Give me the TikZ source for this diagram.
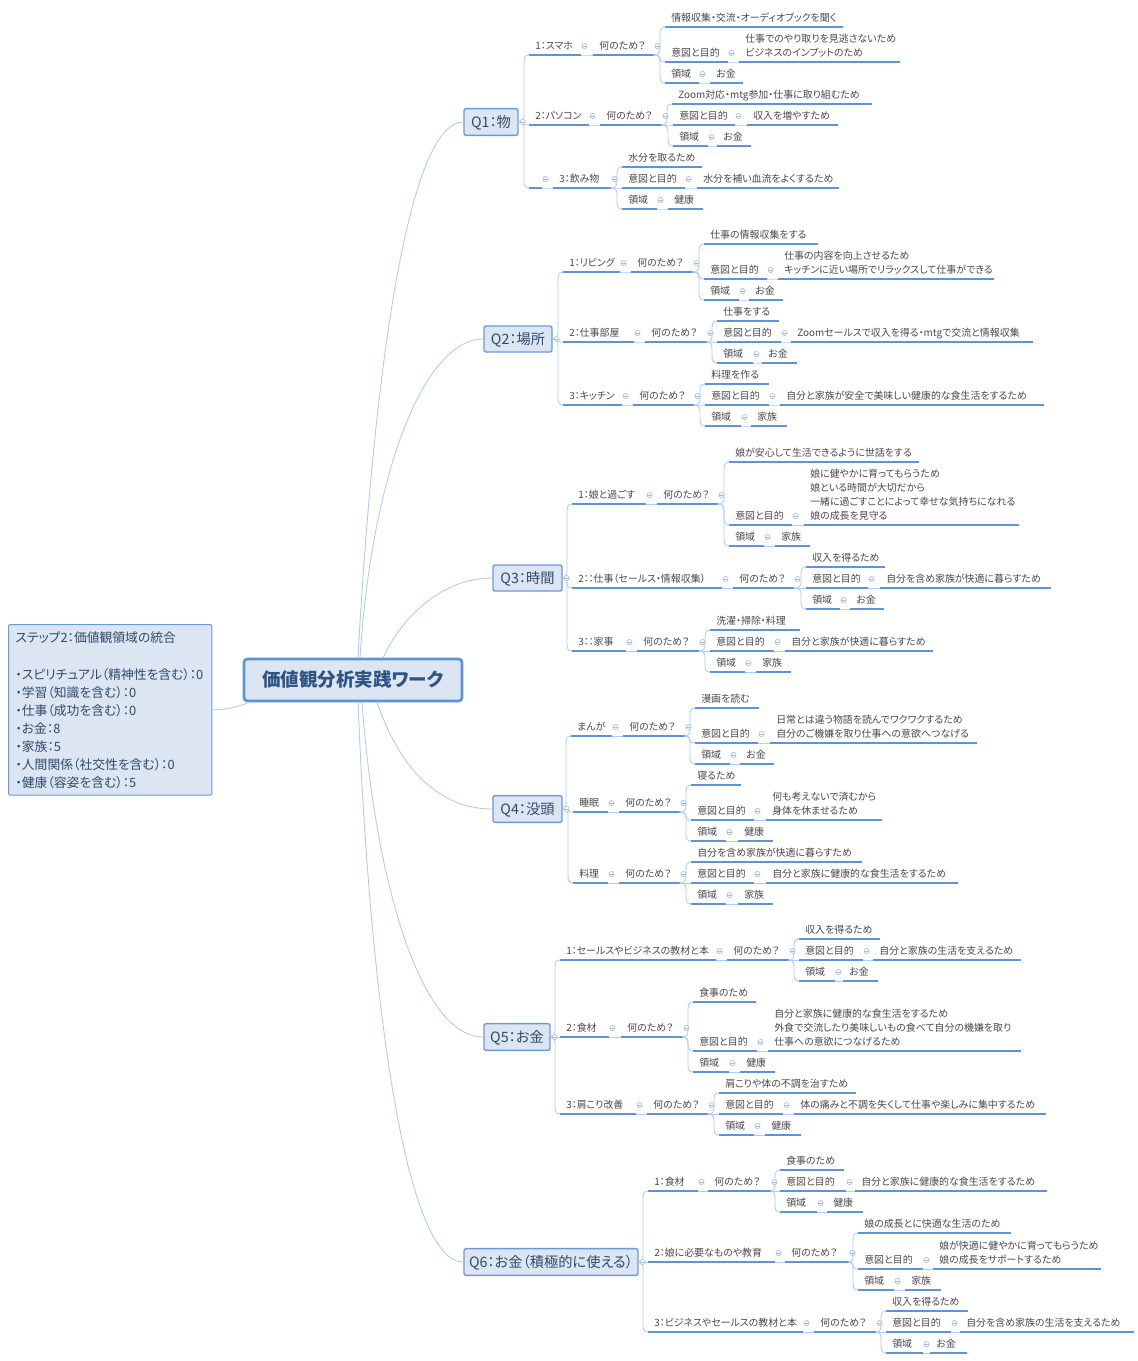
\documentclass[tikz,border=0pt]{standalone}
\usepackage{fontspec}
\usetikzlibrary{calc}
\setmainfont{Noto Sans CJK JP}[RawFeature={+palt}]
\definecolor{linec}{HTML}{B0CCF0}
\definecolor{ulc}{HTML}{5E93D6}
\definecolor{boxf}{HTML}{DCE6F2}
\definecolor{boxd}{HTML}{6A9BD8}
\definecolor{txt}{HTML}{4A4A4A}
\definecolor{dtxt}{HTML}{2E4A6B}
\definecolor{roott}{HTML}{2F5585}
\definecolor{foldc}{HTML}{A3C0E4}
\tikzset{
  x=0.75pt,y=-0.75pt,
  conn/.style={draw=linec,line width=0.65pt},
  hub/.style={draw=linec,line width=0.65pt},
  topic/.style={anchor=south west,inner xsep=4.5pt,inner ysep=0pt,align=left,text=txt,
    font=\fontsize{7.45}{10.5}\selectfont,
    append after command={(\tikzlastnode.south west) edge[draw=ulc,line width=1.1pt] (\tikzlastnode.south east)}},
  fold/.style={circle,draw=foldc,fill=white,line width=0.45pt,inner sep=0pt,minimum size=3.9pt,
    path picture={\draw[foldc,line width=0.4pt] (path picture bounding box.west) -- (path picture bounding box.east);}},
  qbox/.style={draw=boxd,fill=boxf,line width=1.05pt,rounded corners=1.6pt,text=dtxt,inner sep=0pt,
    font=\fontsize{10.7}{13}\selectfont},
  rootbox/.style={draw=ulc,fill=boxf,line width=2pt,rounded corners=2.5pt,text=roott,inner sep=0pt,
    font=\fontsize{13.9}{18}\selectfont\bfseries},
  notebox/.style={draw=boxd,fill=boxf,line width=0.8pt,rounded corners=1.5pt,text=dtxt,inner xsep=5.25pt,inner ysep=0pt,
    align=left,anchor=north west,font=\fontsize{9.6}{13.5}\selectfont},
}
\newcommand\Conn[2]{\draw[conn] let \p1=(#1),\p2=(#2),
  \n1={sign(\y2-\y1)*min(abs(\y2-\y1)/2,5.25pt)},\n2={\x2-3.75pt} in
  (\p1) .. controls (\n2-1pt,\y1) and (\n2,\y1+0.3*\n1) .. (\n2,\y1+\n1) -- (\n2,\y2-\n1)
  .. controls (\n2,\y2-0.3*\n1) and (\n2+1pt,\y2) .. (\p2);}
% leaf topic: name, parent, x1, x2, y, text
\newcommand\Tl[6]{%
  \pgfmathsetlengthmacro\tw{(#4-#3-12)*0.75pt}%
  \node[topic,text width=\tw] (#1) at (#3,#5) {#6\rule[-3.7pt]{0pt}{3.7pt}};
  \Conn{#2}{#1.south west}}
% topic followed by a collapse marker
\newcommand\Tf[6]{\Tl{#1}{#2}{#3}{#4}{#5}{#6}
  \node[fold] (#1f) at ($(#1.south east)+(4,-9)$) {};}
\newcommand\Why{何のため？}
\newcommand\Aim{意図と目的}
\newcommand\Dom{領域}
\newcommand\Low[1]{\raisebox{-5.2pt}[0pt][0pt]{#1}}
\newcommand\QLow[1]{\raisebox{-4.1pt}[0pt][0pt]{#1}}
\begin{document}
\begin{tikzpicture}
\useasboundingbox (0,0) rectangle (1138,1361);
\fill[white] (0,0) rectangle (1138,1361);
\node[rootbox,minimum width=163.5pt,minimum height=31.5pt] (root) at (353,680) {\Low{価値観分析実践ワーク}};
\node[notebox,minimum height=128pt,text width=142pt] (note) at (8,624) {\vspace*{0.8pt}ステップ2：価値観領域の統合\\\mbox{}\\・スピリチュアル（精神性を含む）：0\\・学習（知識を含む）：0\\・仕事（成功を含む）：0\\・お金：8\\・家族：5\\・人間関係（社交性を含む）：0\\・健康（容姿を含む）：5};
\node[qbox,minimum width=40.5pt,minimum height=20pt] (Q1) at (491,122) {\QLow{Q1：物}};
\node[qbox,minimum width=51pt,minimum height=19.5pt] (Q2) at (518,339) {\QLow{Q2：場所}};
\node[qbox,minimum width=51.75pt,minimum height=19.5pt] (Q3) at (527.5,578) {\QLow{Q3：時間}};
\node[qbox,minimum width=51.75pt,minimum height=20pt] (Q4) at (527.5,809) {\QLow{Q4：没頭}};
\node[qbox,minimum width=49.5pt,minimum height=20pt] (Q5) at (517,1037) {\QLow{Q5：お金}};
\node[qbox,minimum width=130.5pt,minimum height=20pt] (Q6) at (551,1262) {\QLow{Q6：お金（積極的に使える）}};
\draw[hub] (note.east) ++(0,0) .. controls +(13,0) and (238,707) .. (250,702);
\draw[hub] (358,658) .. controls (372,400) and (405,122) .. (Q1.west);
\draw[hub] (360,658) .. controls (372,470) and (425,339) .. (Q2.west);
\draw[hub] (383,658) .. controls (400,620) and (440,578) .. (Q3.west);
\draw[hub] (377,702) .. controls (400,770) and (440,809) .. (Q4.west);
\draw[hub] (362,702) .. controls (375,880) and (420,1037) .. (Q5.west);
\draw[hub] (358,702) .. controls (370,1000) and (405,1262) .. (Q6.west);
% Q1
\Tf{a1}{Q1.east}{529}{580}{55}{1：スマホ}
\Tf{a1w}{a1.south east}{593}{653}{55}{\Why}
\Tl{a1a}{a1w.south east}{665}{842}{27}{情報収集・交流・オーディオブックを聞く}
\Tf{a1b}{a1w.south east}{665}{727}{62}{\Aim}
\Tl{a1bt}{a1b.south east}{739}{899}{62}{仕事でのやり取りを見逃さないため\\ビジネスのインプットのため}
\Tf{a1c}{a1w.south east}{665}{698}{83}{\Dom}
\Tl{a1ct}{a1c.south east}{710}{742}{83}{お金}
\Tf{a2}{Q1.east}{529}{588}{125}{2：パソコン}
\Tf{a2w}{a2.south east}{600}{661}{125}{\Why}
\Tl{a2a}{a2w.south east}{672}{871}{104}{Zoom対応・mtg参加・仕事に取り組むため}
\Tf{a2b}{a2w.south east}{673}{734}{125}{\Aim}
\Tl{a2bt}{a2b.south east}{747}{837}{125}{収入を増やすため}
\Tf{a2c}{a2w.south east}{673}{707}{146}{\Dom}
\Tl{a2ct}{a2c.south east}{717}{750}{146}{お金}
\Tf{a3e}{Q1.east}{529}{541}{188}{}
\Tf{a3}{a3e.south east}{553}{610}{188}{3：飲み物}
\Tl{a3a}{a3.south east}{622}{701}{167}{水分を取るため}
\Tf{a3b}{a3.south east}{622}{684}{188}{\Aim}
\Tl{a3bt}{a3b.south east}{697}{838}{188}{水分を補い血流をよくするため}
\Tf{a3c}{a3.south east}{622}{656}{209}{\Dom}
\Tl{a3ct}{a3c.south east}{668}{702}{209}{健康}
% Q2
\Tf{b1}{Q2.east}{563}{619}{272}{1：リビング}
\Tf{b1w}{b1.south east}{631}{692}{272}{\Why}
\Tl{b1a}{b1w.south east}{704}{817}{244}{仕事の情報収集をする}
\Tf{b1b}{b1w.south east}{704}{766}{279}{\Aim}
\Tl{b1bt}{b1b.south east}{778}{993}{279}{仕事の内容を向上させるため\\キッチンに近い場所でリラックスして仕事ができる}
\Tf{b1c}{b1w.south east}{704}{738}{300}{\Dom}
\Tl{b1ct}{b1c.south east}{749}{782}{300}{お金}
\Tf{b2}{Q2.east}{563}{633}{342}{2：仕事部屋}
\Tf{b2w}{b2.south east}{645}{706}{342}{\Why}
\Tl{b2a}{b2w.south east}{717}{778}{321}{仕事をする}
\Tf{b2b}{b2w.south east}{717}{780}{342}{\Aim}
\Tl{b2bt}{b2b.south east}{791}{1032}{342}{Zoomセールスで収入を得る・mtgで交流と情報収集}
\Tf{b2c}{b2w.south east}{717}{752}{363}{\Dom}
\Tl{b2ct}{b2c.south east}{762}{796}{363}{お金}
\Tf{b3}{Q2.east}{563}{621}{405}{3：キッチン}
\Tf{b3w}{b3.south east}{633}{693}{405}{\Why}
\Tl{b3a}{b3w.south east}{705}{768}{384}{料理を作る}
\Tf{b3b}{b3w.south east}{705}{768}{405}{\Aim}
\Tl{b3bt}{b3b.south east}{780}{1043}{405}{自分と家族が安全で美味しい健康的な食生活をするため}
\Tf{b3c}{b3w.south east}{705}{740}{426}{\Dom}
\Tl{b3ct}{b3c.south east}{751}{786}{426}{家族}
% Q3
\Tf{c1}{Q3.east}{572}{645}{504}{1：娘と過ごす}
\Tf{c1w}{c1.south east}{657}{717}{504}{\Why}
\Tl{c1a}{c1w.south east}{729}{918}{462}{娘が安心して生活できるように世話をする}
\Tf{c1b}{c1w.south east}{729}{791}{525}{\Aim}
\Tl{c1bt}{c1b.south east}{804}{1018}{525}{娘に健やかに育ってもらうため\\娘といる時間が大切だから\\一緒に過ごすことによって幸せな気持ちになれる\\娘の成長を見守る}
\Tf{c1c}{c1w.south east}{729}{763}{546}{\Dom}
\Tl{c1ct}{c1c.south east}{775}{809}{546}{家族}
\Tf{c2}{Q3.east}{572}{721}{588}{2：：仕事（セールス・情報収集）}
\Tf{c2w}{c2.south east}{733}{793}{588}{\Why}
\Tl{c2a}{c2w.south east}{806}{884}{567}{収入を得るため}
\Tf{c2b}{c2w.south east}{806}{867}{588}{\Aim}
\Tl{c2bt}{c2b.south east}{880}{1050}{588}{自分を含め家族が快適に暮らすため}
\Tf{c2c}{c2w.south east}{806}{839}{609}{\Dom}
\Tl{c2ct}{c2c.south east}{850}{883}{609}{お金}
\Tf{c3}{Q3.east}{572}{625}{651}{3：：家事}
\Tf{c3w}{c3.south east}{637}{698}{651}{\Why}
\Tl{c3a}{c3w.south east}{710}{799}{630}{洗濯・掃除・料理}
\Tf{c3b}{c3w.south east}{710}{773}{651}{\Aim}
\Tl{c3bt}{c3b.south east}{785}{932}{651}{自分と家族が快適に暮らすため}
\Tf{c3c}{c3w.south east}{710}{744}{672}{\Dom}
\Tl{c3ct}{c3c.south east}{756}{790}{672}{家族}
% Q4
\Tf{d1}{Q4.east}{571}{611}{736}{まんが}
\Tf{d1w}{d1.south east}{623}{684}{736}{\Why}
\Tl{d1a}{d1w.south east}{695}{758}{708}{漫画を読む}
\Tf{d1b}{d1w.south east}{695}{757}{743}{\Aim}
\Tl{d1bt}{d1b.south east}{770}{976}{743}{日常とは違う物語を読んでワクワクするため\\自分のご機嫌を取り仕事への意欲へつなげる}
\Tf{d1c}{d1w.south east}{695}{729}{764}{\Dom}
\Tl{d1ct}{d1c.south east}{740}{773}{764}{お金}
\Tf{d2}{Q4.east}{573}{607}{812}{睡眠}
\Tf{d2w}{d2.south east}{619}{679}{812}{\Why}
\Tl{d2a}{d2w.south east}{691}{740}{785}{寝るため}
\Tf{d2b}{d2w.south east}{691}{753}{820}{\Aim}
\Tl{d2bt}{d2b.south east}{766}{881}{820}{何も考えないで済むから\\身体を休ませるため}
\Tf{d2c}{d2w.south east}{691}{725}{841}{\Dom}
\Tl{d2ct}{d2c.south east}{738}{772}{841}{健康}
\Tf{d3}{Q4.east}{573}{607}{883}{料理}
\Tf{d3w}{d3.south east}{619}{679}{883}{\Why}
\Tl{d3a}{d3w.south east}{691}{861}{862}{自分を含め家族が快適に暮らすため}
\Tf{d3b}{d3w.south east}{691}{753}{883}{\Aim}
\Tl{d3bt}{d3b.south east}{766}{957}{883}{自分と家族に健康的な食生活をするため}
\Tf{d3c}{d3w.south east}{691}{725}{904}{\Dom}
\Tl{d3ct}{d3c.south east}{738}{772}{904}{家族}
% Q5
\Tf{e1}{Q5.east}{560}{715}{960}{1：セールスやビジネスの教材と本}
\Tf{e1w}{e1.south east}{727}{788}{960}{\Why}
\Tl{e1a}{e1w.south east}{799}{879}{939}{収入を得るため}
\Tf{e1b}{e1w.south east}{799}{862}{960}{\Aim}
\Tl{e1bt}{e1b.south east}{873}{1020}{960}{自分と家族の生活を支えるため}
\Tf{e1c}{e1w.south east}{799}{834}{981}{\Dom}
\Tl{e1ct}{e1c.south east}{843}{877}{981}{お金}
\Tf{e2}{Q5.east}{560}{608}{1037}{2：食材}
\Tf{e2w}{e2.south east}{621}{682}{1037}{\Why}
\Tl{e2a}{e2w.south east}{693}{755}{1002}{食事のため}
\Tf{e2b}{e2w.south east}{693}{756}{1051}{\Aim}
\Tl{e2bt}{e2b.south east}{768}{1020}{1051}{自分と家族に健康的な食生活をするため\\外食で交流したり美味しいもの食べて自分の機嫌を取り\\仕事への意欲につなげるため}
\Tf{e2c}{e2w.south east}{693}{728}{1072}{\Dom}
\Tl{e2ct}{e2c.south east}{740}{774}{1072}{健康}
\Tf{e3}{Q5.east}{560}{635}{1114}{3：肩こり改善}
\Tf{e3w}{e3.south east}{647}{707}{1114}{\Why}
\Tl{e3a}{e3w.south east}{719}{855}{1093}{肩こりや体の不調を治すため}
\Tf{e3b}{e3w.south east}{719}{782}{1114}{\Aim}
\Tl{e3bt}{e3b.south east}{794}{1045}{1114}{体の痛みと不調を失くして仕事や楽しみに集中するため}
\Tf{e3c}{e3w.south east}{719}{753}{1135}{\Dom}
\Tl{e3ct}{e3c.south east}{765}{800}{1135}{健康}
% Q6
\Tf{f1}{Q6.east}{648}{697}{1191}{1：食材}
\Tf{f1w}{f1.south east}{708}{770}{1191}{\Why}
\Tl{f1a}{f1w.south east}{780}{843}{1170}{食事のため}
\Tf{f1b}{f1w.south east}{780}{845}{1191}{\Aim}
\Tl{f1bt}{f1b.south east}{855}{1046}{1191}{自分と家族に健康的な食生活をするため}
\Tf{f1c}{f1w.south east}{780}{816}{1212}{\Dom}
\Tl{f1ct}{f1c.south east}{827}{862}{1212}{健康}
\Tf{f2}{Q6.east}{648}{774}{1262}{2：娘に必要なものや教育}
\Tf{f2w}{f2.south east}{785}{848}{1262}{\Why}
\Tl{f2a}{f2w.south east}{858}{1010}{1233}{娘の成長とに快適な生活のため}
\Tf{f2b}{f2w.south east}{858}{922}{1269}{\Aim}
\Tl{f2bt}{f2b.south east}{933}{1100}{1269}{娘が快適に健やかに育ってもらうため\\娘の成長をサポートするため}
\Tf{f2c}{f2w.south east}{858}{893}{1290}{\Dom}
\Tl{f2ct}{f2c.south east}{905}{940}{1290}{家族}
\Tf{f3}{Q6.east}{648}{802}{1332}{3：ビジネスやセールスの教材と本}
\Tf{f3w}{f3.south east}{814}{875}{1332}{\Why}
\Tl{f3a}{f3w.south east}{886}{967}{1311}{収入を得るため}
\Tf{f3b}{f3w.south east}{886}{950}{1332}{\Aim}
\Tl{f3bt}{f3b.south east}{960}{1133}{1332}{自分を含め家族の生活を支えるため}
\Tf{f3c}{f3w.south east}{886}{922}{1353}{\Dom}
\Tl{f3ct}{f3c.south east}{930}{966}{1353}{お金}
% collapse markers of the main branches
\foreach \q/\n in {Q1/qa,Q2/qb,Q3/qc,Q4/qd,Q5/qe,Q6/qf}{
  \node[fold] (\n) at ($(\q.east)+(4,0)$) {};}
\end{tikzpicture}
\end{document}
